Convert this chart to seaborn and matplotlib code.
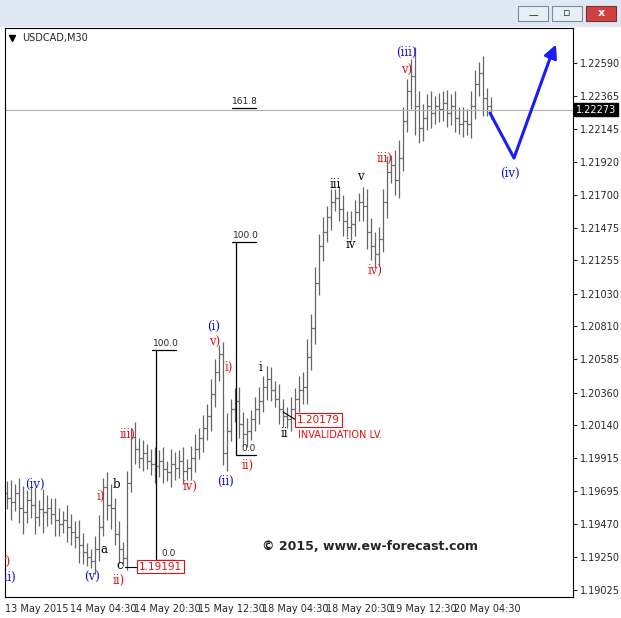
import matplotlib
matplotlib.use("Agg")
import matplotlib.pyplot as plt
import seaborn as sns
import numpy as np
from matplotlib.patches import Rectangle

sns.set_style("white")
plt.rcParams['font.family'] = ['DejaVu Sans']

# closes in pips above 1.1900 (hourly bars)
closes = [65,62,68,58,55,63,60,52,57,55,
          58,54,50,47,50,45,42,38,33,28,
          25,22,30,45,72,60,58,40,30,24,
          75,106,98,92,95,90,88,86,90,84,
          82,88,85,90,83,85,92,98,105,112,
          120,135,150,162,95,110,125,130,115,108,
          110,118,125,130,140,145,138,132,125,120,
          118,125,132,138,140,160,180,210,235,245,
          255,265,268,260,252,248,250,258,265,262,
          245,235,230,240,265,285,290,280,295,320,
          340,350,330,315,322,330,325,330,328,332,
          325,330,322,318,320,318,330,345,352,335,
          330,327]
wicks = [8,12,6,10,15,7,9,12,6,14,
         9,7,11,8,6,10,9,7,12,8,
         6,5,9,8,6,10,14,7,9,5,
         8,6,10,7,9,6,8,11,7,9,
         6,10,8,7,9,6,8,10,7,9,
         8,10,9,6,8,12,7,9,10,8,
         9,6,8,10,7,9,8,6,10,7,
         6,8,7,9,10,12,9,11,8,10,
         7,9,6,8,10,7,9,8,6,10,
         12,9,10,8,9,11,7,10,12,9,
         8,12,20,10,9,8,10,7,9,8,
         9,8,10,7,9,8,10,9,8,12,
         7,6]
xtick_pos = [7.5, 24, 40, 56, 72, 88, 104, 120]
xtick_labels = ["13 May 2015", "14 May 04:30", "14 May 20:30", "15 May 12:30",
                "18 May 04:30", "18 May 20:30", "19 May 12:30", "20 May 04:30"]
yticks = [1.22590,1.22365,1.22145,1.21920,1.21700,1.21475,1.21255,1.21030,1.20810,
          1.20585,1.20360,1.20140,1.19915,1.19695,1.19470,1.19250,1.19025]
current = 1.22273

W, H = 621, 618
fig = plt.figure(figsize=(6.21, 6.18), dpi=100)
fig.patch.set_facecolor("white")
ax = fig.add_axes([5/W, 21/H, 568/W, 569/H])
ax.set_facecolor("white")

def X(px): return (px - 5) / 4 - 0.5
def Y(py): return 1.22590 - (py - 63) * 6.765e-5

c = 1.19 + np.array(closes) / 1e4
o = np.concatenate([[c[0] + 0.0003], c[:-1]])
w = np.array(wicks) / 1e4
hi = np.maximum(o, c) + w
lo = np.minimum(o, c) - w
idx = np.arange(len(c))
ax.vlines(idx, lo, hi, color="#666666", lw=0.9)
ax.hlines(o, idx - 0.45, idx, color="#666666", lw=0.9)
ax.hlines(c, idx, idx + 0.45, color="#666666", lw=0.9)

ax.set_xlim(-0.5, 141.5)
ax.set_ylim(1.18977, 1.22827)
ax.yaxis.tick_right()
ax.set_yticks(yticks)
ax.set_yticklabels([f"{v:.5f}" for v in yticks], fontsize=7)
ax.set_xticks(xtick_pos)
ax.set_xticklabels(xtick_labels, fontsize=7)
ax.tick_params(length=3, pad=2)
for s in ax.spines.values():
    s.set_color("black"); s.set_linewidth(0.8)

ax.axhline(current, color="#b0b0b0", lw=0.8)
ax.text(1.005, current, f"{current:.5f}", transform=ax.get_yaxis_transform(),
        fontsize=7, color="white", va="center", ha="left",
        bbox=dict(boxstyle="square,pad=0.15", fc="black", ec="black"))

# fib lines
for xp, top, bot in [(156, 350, 560), (236, 242, 455)]:
    ax.plot([X(xp), X(xp)], [Y(top), Y(bot)], color="black", lw=0.9)
    ax.plot([X(xp - 4), X(xp + 20)], [Y(top), Y(top)], color="black", lw=0.9)
    ax.text(X(xp - 3), Y(top - 2), "100.0", fontsize=6.5, va="bottom")
    ax.plot([X(xp), X(xp + 20)], [Y(bot), Y(bot)], color="black", lw=0.9)
    ax.text(X(xp + 5), Y(bot - 2), "0.0", fontsize=6.5, va="bottom")
ax.plot([X(232), X(256)], [Y(108), Y(108)], color="black", lw=0.9)
ax.text(X(232), Y(106), "161.8", fontsize=6.5, va="bottom")

labels = [("(iv)",35,485,"blue"),("(v)",92,578,"blue"),("(ii)",8,578,"blue"),("v)",5,563,"red"),
          ("i)",101,497,"red"),("a",104,550,"black"),("b",116,485,"black"),("c",120,566,"black"),
          ("ii)",119,581,"red"),("iii)",128,434,"red"),("iv)",190,487,"red"),("(i)",214,326,"blue"),
          ("v)",215,342,"red"),("i)",229,367,"red"),("(ii)",225,482,"blue"),("ii)",248,466,"red"),
          ("i",260,368,"black"),("ii",284,434,"black"),("iii",335,184,"black"),("v",360,176,"black"),
          ("iv",351,245,"black"),("iii)",385,158,"red"),("iv)",375,270,"red"),("(iii)",406,52,"blue"),
          ("v)",407,70,"red"),("(iv)",510,173,"blue")]
for t, xp, yp, col in labels:
    ax.text(X(xp), Y(yp), t, color={"blue":"#1010d0","red":"#e01010","black":"black"}[col],
            fontsize=8.5, family="DejaVu Serif", ha="center", va="center", clip_on=True)

# projection
px = [X(490), X(514), X(553)]
py = [Y(113), Y(158), Y(50)]
sns.lineplot(x=px, y=py, ax=ax, color="#1a1aff", lw=2.2, sort=False)
ax.annotate("", xy=(X(557), Y(42)), xytext=(X(552), Y(54)),
            arrowprops=dict(arrowstyle="-|>,head_length=0.8,head_width=0.4", color="#1a1aff", lw=2))

# invalidation boxes
ax.plot([X(283), X(296)], [Y(412), Y(420)], color="black", lw=0.8)
ax.text(X(297), Y(420), "1.20179", fontsize=7.5, color="#e01010", va="center",
        bbox=dict(boxstyle="square,pad=0.15", fc="white", ec="#e01010", lw=0.8))
ax.text(X(298), Y(435), "INVALIDATION LV.", fontsize=7, color="#e01010", va="center")
ax.plot([X(125), X(138)], [Y(567), Y(567)], color="black", lw=0.8)
ax.text(X(139), Y(567), "1.19191", fontsize=7.5, color="#e01010", va="center",
        bbox=dict(boxstyle="square,pad=0.15", fc="white", ec="#e01010", lw=0.8))

ax.text(X(370), Y(547), "© 2015, www.ew-forecast.com", fontsize=9, fontweight="bold",
        ha="center", va="center")
ax.text(X(22), Y(38), "USDCAD,M30", fontsize=7, va="center")
ax.plot([X(12)], [Y(38)], marker="v", color="black", ms=4)

# window chrome
fig.patches.append(Rectangle((0, 1 - 27/H), 1, 27/H, transform=fig.transFigure,
                             fc="#dfe8f2", ec="none"))
for bx in [518, 552, 586]:
    fig.patches.append(Rectangle((bx/W, 1 - 21/H), 30/W, 15/H, transform=fig.transFigure,
                                 fc="#e8eef5", ec="#7a8a9a", lw=0.8))
fig.patches.append(Rectangle((586/W, 1 - 21/H), 30/W, 15/H, transform=fig.transFigure,
                             fc="#d04040", ec="#7a3030", lw=0.8))
fig.text(601/W, 1 - 13.5/H, "x", color="white", ha="center", va="center", fontsize=8, fontweight="bold")
fig.text(533/W, 1 - 15/H, "—", ha="center", va="center", fontsize=7)
fig.text(567/W, 1 - 13.5/H, "▫", ha="center", va="center", fontsize=8)

fig.savefig("out.png", dpi=100)
